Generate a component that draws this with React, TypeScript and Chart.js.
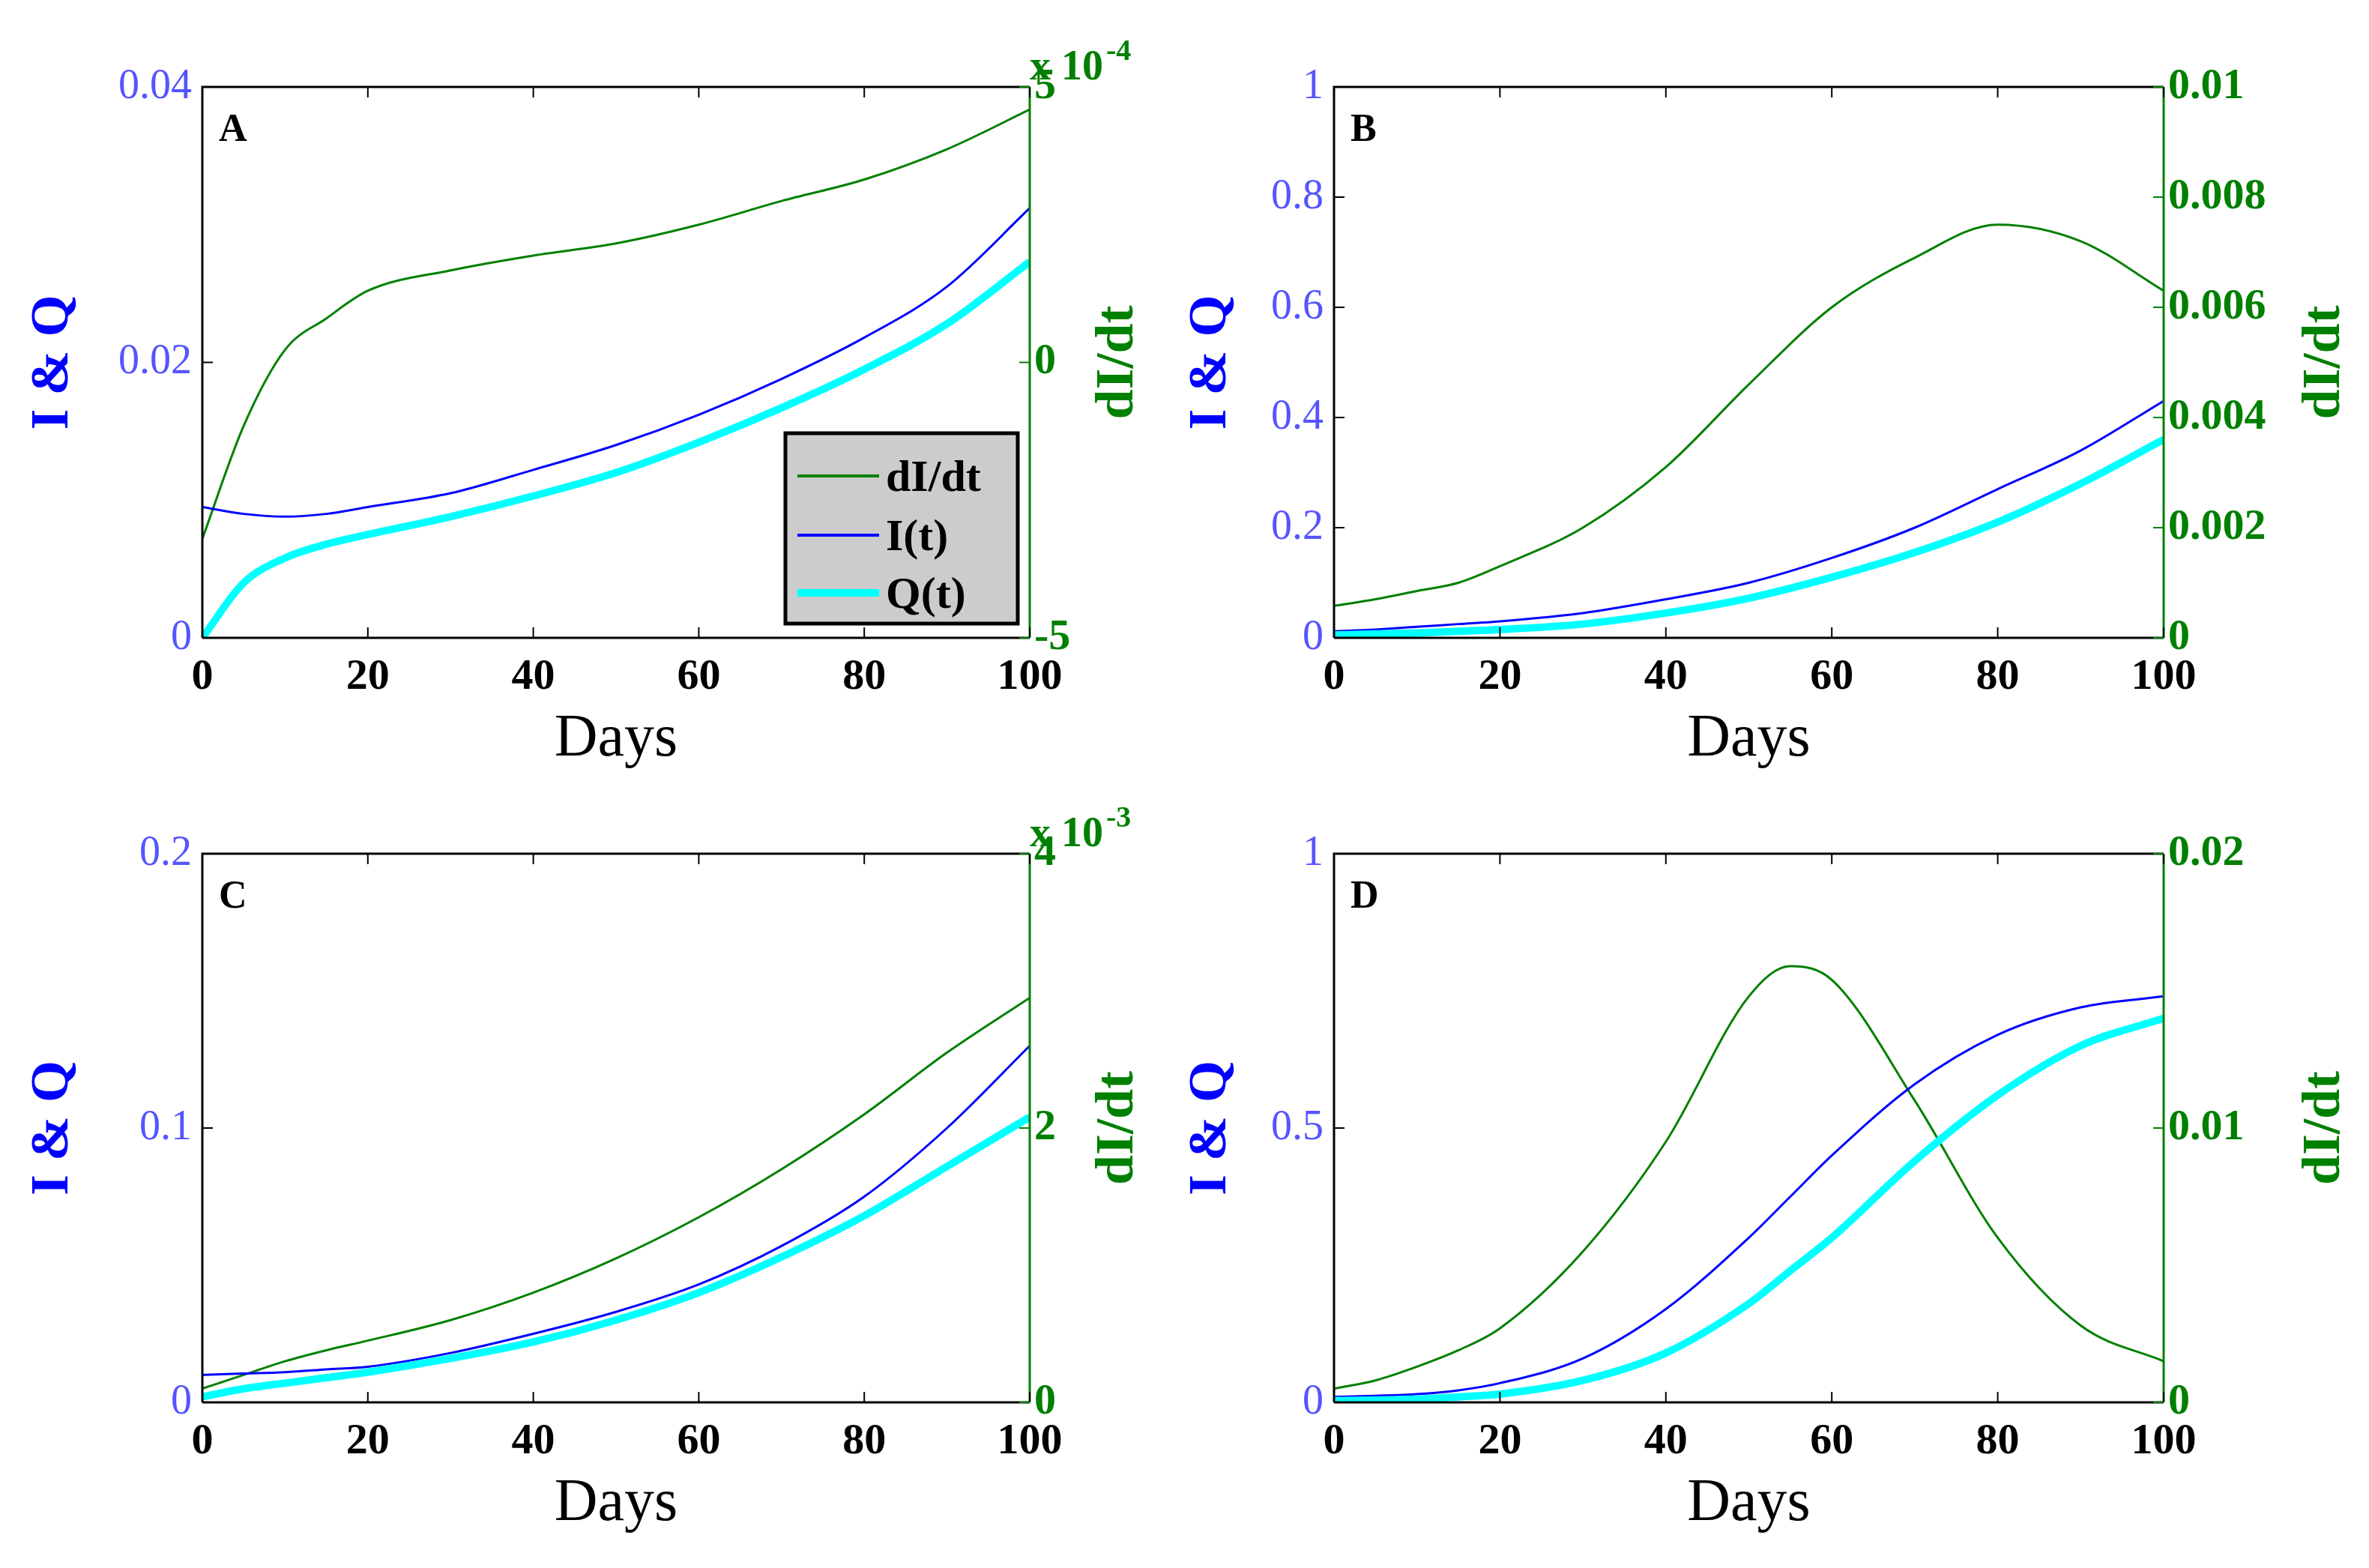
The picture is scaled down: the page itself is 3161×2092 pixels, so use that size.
import React, { useEffect, useRef } from "react";
import { Chart, registerables } from "chart.js";
Chart.register(...registerables);

const days = [0, 5, 10, 15, 20, 30, 40, 50, 60, 70, 80, 90, 100];
const aI = [0.0095, 0.009, 0.0088, 0.009, 0.0095, 0.0105, 0.0122, 0.014, 0.0162, 0.0188, 0.0218, 0.0255, 0.0312];
const aQ = [0, 0.004, 0.0058, 0.0068, 0.0075, 0.0088, 0.0103, 0.012, 0.0142, 0.0167, 0.0195, 0.0228, 0.0273];
const aD = [-3.2, -1.15, 0.23, 0.8, 1.3, 1.67, 1.94, 2.16, 2.5, 2.93, 3.32, 3.87, 4.59];
const bI = [0.012, 0.015, 0.02, 0.025, 0.03, 0.045, 0.07, 0.1, 0.145, 0.2, 0.27, 0.34, 0.43];
const bQ = [0.005, 0.007, 0.009, 0.012, 0.015, 0.025, 0.045, 0.072, 0.11, 0.155, 0.21, 0.28, 0.36];
const bD = [0.00058, 0.0007, 0.00085, 0.001, 0.0013, 0.002, 0.0031, 0.0046, 0.006, 0.0069, 0.0075, 0.0072, 0.0063];
const cI = [0.01, 0.0105, 0.011, 0.012, 0.013, 0.018, 0.025, 0.033, 0.043, 0.057, 0.075, 0.1, 0.13];
const cQ = [0.002, 0.005, 0.007, 0.009, 0.011, 0.016, 0.022, 0.03, 0.04, 0.053, 0.068, 0.086, 0.104];
const cD = [0.1, 0.2, 0.3, 0.38, 0.45, 0.6, 0.8, 1.05, 1.35, 1.7, 2.1, 2.55, 2.95];
const daysD = [0, 5, 10, 15, 20, 30, 40, 50, 55, 60, 70, 80, 90, 100];
const dI = [0.01, 0.012, 0.015, 0.022, 0.035, 0.08, 0.17, 0.3, 0.375, 0.45, 0.58, 0.67, 0.72, 0.74];
const dQ = [0.003, 0.004, 0.006, 0.01, 0.015, 0.04, 0.09, 0.18, 0.24, 0.3, 0.44, 0.56, 0.65, 0.7];
const dD = [0.0005, 0.0008, 0.0013, 0.0019, 0.0027, 0.0055, 0.0095, 0.0148, 0.0159, 0.0154, 0.011, 0.006, 0.0028, 0.0015];

const xTicks = [0, 20, 40, 60, 80, 100];

const BLUE = "#0000ff";
const CYAN = "#00ffff";
const GREEN = "#008000";
const SERIF = "'Liberation Serif', 'DejaVu Serif', serif";

const L = 260, R = 300, T = 80, B = 220;

type P = {
  letter: string; left: number; top: number; w: number; h: number;
  X: number[]; I: number[]; Q: number[]; D: number[];
  lmax: number; lstep: number; rmin: number; rmax: number; rstep: number;
  exp?: string; legend?: boolean; lt: number; rt: number;
};

const fmt = (v: number) => String(parseFloat(Number(v).toFixed(6)));

function Panel(p: P) {
  const ref = useRef<HTMLCanvasElement>(null);
  useEffect(() => {
    const deco = {
      id: "deco",
      afterDraw(ch: any) {
        const c = ch.ctx, a = ch.chartArea;
        c.save();
        c.lineWidth = 3;
        c.strokeStyle = "#000";
        c.beginPath();
        c.moveTo(a.left, a.bottom); c.lineTo(a.left, a.top); c.lineTo(a.right, a.top);
        c.moveTo(a.left, a.bottom); c.lineTo(a.right, a.bottom);
        c.stroke();
        c.strokeStyle = GREEN;
        c.beginPath(); c.moveTo(a.right, a.top); c.lineTo(a.right, a.bottom); c.stroke();
        c.lineWidth = 2; c.strokeStyle = "#000";
        const xs = ch.scales.x, yl = ch.scales.y, yr = ch.scales.y1;
        xTicks.forEach((t) => { const x = xs.getPixelForValue(t); c.beginPath(); c.moveTo(x, a.bottom); c.lineTo(x, a.bottom - 14); c.moveTo(x, a.top); c.lineTo(x, a.top + 14); c.stroke(); });
        yl.ticks.forEach((t: any) => { const y = yl.getPixelForValue(t.value); c.beginPath(); c.moveTo(a.left, y); c.lineTo(a.left + 14, y); c.stroke(); });
        c.strokeStyle = GREEN;
        yr.ticks.forEach((t: any) => { const y = yr.getPixelForValue(t.value); c.beginPath(); c.moveTo(a.right, y); c.lineTo(a.right - 14, y); c.stroke(); });
        c.fillStyle = "#000"; c.font = `bold 52px ${SERIF}`; c.textAlign = "left"; c.textBaseline = "alphabetic";
        c.fillText(p.letter, a.left + 22, a.top + 72);
        c.font = `80px ${SERIF}`; c.textAlign = "center"; c.textBaseline = "middle";
        c.fillText("Days", (a.left + a.right) / 2, a.bottom + 136);
        c.save(); c.translate(a.left - p.lt, (a.top + a.bottom) / 2); c.rotate(-Math.PI / 2);
        c.fillStyle = BLUE; c.font = `bold 72px ${SERIF}`; c.fillText("I & Q", 0, 0); c.restore();
        c.save(); c.translate(a.right + p.rt, (a.top + a.bottom) / 2); c.rotate(-Math.PI / 2);
        c.fillStyle = GREEN; c.font = `bold 72px ${SERIF}`; c.fillText("dI/dt", 0, 0); c.restore();
        if (p.exp) {
          c.fillStyle = GREEN; c.textAlign = "left"; c.textBaseline = "alphabetic";
          c.font = `bold 56px ${SERIF}`; c.fillText("x 10", a.right, a.top - 10);
          const w = c.measureText("x 10").width;
          c.font = `bold 40px ${SERIF}`; c.fillText(p.exp, a.right + w + 4, a.top - 36);
        }
        if (p.legend) {
          const bx = a.left + 778, by = a.top + 462, bw = 310, bh = 254;
          c.fillStyle = "#cccccc"; c.fillRect(bx, by, bw, bh);
          c.strokeStyle = "#000"; c.lineWidth = 5; c.strokeRect(bx, by, bw, bh);
          const items = [["dI/dt", GREEN, 4], ["I(t)", BLUE, 4], ["Q(t)", CYAN, 10]] as const;
          const ys = [519, 598, 675];
          items.forEach((it, i) => {
            const y = a.top + ys[i];
            c.strokeStyle = it[1]; c.lineWidth = it[2];
            c.beginPath(); c.moveTo(a.left + 794, y); c.lineTo(a.left + 903, y); c.stroke();
            c.fillStyle = "#000"; c.font = `bold 60px ${SERIF}`; c.textAlign = "left"; c.textBaseline = "middle";
            c.fillText(it[0], a.left + 912, y + 4);
          });
        }
        c.restore();
      },
    };
    const ds = (label: string, vals: number[], color: string, w: number, axis: string) => ({
      label, data: vals.map((v, i) => ({ x: p.X[i], y: v })), borderColor: color, borderWidth: w,
      pointRadius: 0, cubicInterpolationMode: "monotone", yAxisID: axis,
    });
    const ch = new Chart(ref.current!, {
      type: "line",
      data: {
        datasets: [
          ds("Q(t)", p.Q, CYAN, 10, "y"),
          ds("I(t)", p.I, BLUE, 3, "y"),
          ds("dI/dt", p.D, GREEN, 3, "y1"),
        ],
      },
      options: {
        animation: false, responsive: false, devicePixelRatio: 1,
        layout: { padding: { top: T, left: 0, right: 0, bottom: 0 } },
        plugins: { legend: { display: false }, tooltip: { enabled: false } },
        scales: {
          x: {
            type: "linear", min: 0, max: 100,
            afterBuildTicks: (s: any) => { s.ticks = xTicks.map((v) => ({ value: v })); },
            grid: { display: false, drawTicks: false }, border: { display: false },
            ticks: { color: "#000", font: { family: SERIF, size: 58, weight: "bold" }, padding: 18, maxRotation: 0 },
            afterFit: (s: any) => { s.height = B; },
          },
          y: {
            position: "left", min: 0, max: p.lmax,
            grid: { display: false, drawTicks: false }, border: { display: false },
            ticks: { stepSize: p.lstep, color: "#5555ff", font: { family: SERIF, size: 56 }, padding: 14, callback: (v: any) => fmt(v) },
            afterFit: (s: any) => { s.width = L; },
          },
          y1: {
            position: "right", min: p.rmin, max: p.rmax,
            grid: { display: false, drawTicks: false }, border: { display: false },
            ticks: { stepSize: p.rstep, color: GREEN, font: { family: SERIF, size: 58, weight: "bold" }, padding: 6, callback: (v: any) => fmt(v) },
            afterFit: (s: any) => { s.width = R; },
          },
        },
      } as any,
      plugins: [deco],
    });
    return () => ch.destroy();
  }, []);
  const W = p.w + L + R, H = p.h + T + B;
  return (
    <canvas ref={ref} width={W} height={H}
      style={{ position: "absolute", left: p.left - L, top: p.top - T, width: W, height: H }} />
  );
}

export default function App() {
  return (
    <div style={{ position: "relative", width: 3161, height: 2092, background: "#fff", margin: -8 }}>
      <Panel letter="A" left={270} top={116} w={1104} h={735} X={days} I={aI} Q={aQ} D={aD} lmax={0.04} lstep={0.02} rmin={-5} rmax={5} rstep={5} exp="-4" legend lt={199} rt={118} />
      <Panel letter="B" left={1780} top={116} w={1107} h={735} X={days} I={bI} Q={bQ} D={bD} lmax={1} lstep={0.2} rmin={0} rmax={0.01} rstep={0.002} lt={164} rt={215} />
      <Panel letter="C" left={270} top={1139} w={1104} h={732} X={days} I={cI} Q={cQ} D={cD} lmax={0.2} lstep={0.1} rmin={0} rmax={4} rstep={2} exp="-3" lt={199} rt={118} />
      <Panel letter="D" left={1780} top={1139} w={1107} h={732} X={daysD} I={dI} Q={dQ} D={dD} lmax={1} lstep={0.5} rmin={0} rmax={0.02} rstep={0.01} lt={164} rt={215} />
    </div>
  );
}
